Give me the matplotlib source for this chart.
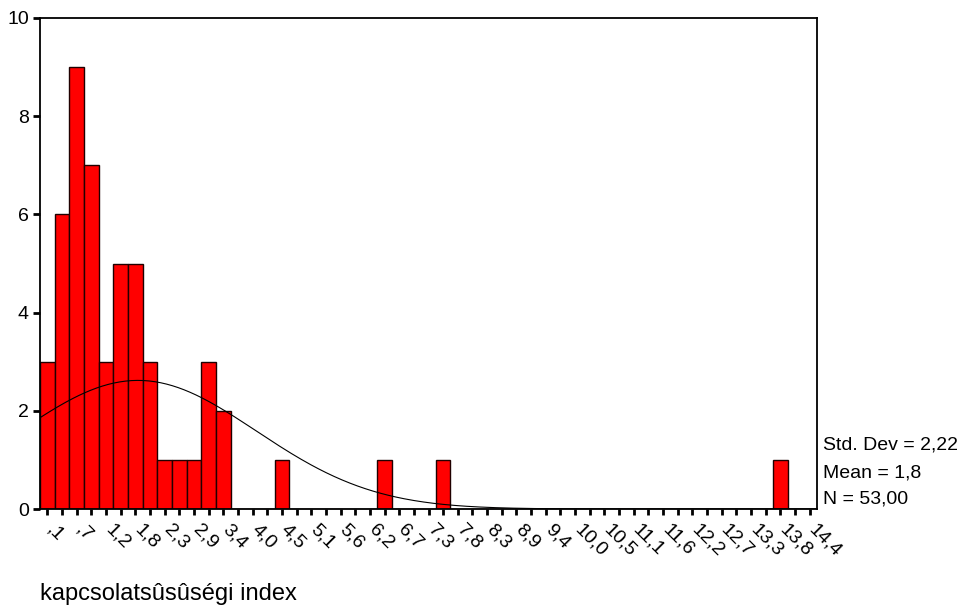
import numpy as np
import matplotlib.pyplot as plt
from matplotlib.transforms import ScaledTranslation

plt.rcParams['font.family'] = ['Liberation Sans', 'DejaVu Sans']

# histogram bins (SPSS style): first centre and width
first_center = 0.1
bin_width = 0.275
counts = [3, 6, 9, 7, 3, 5, 5, 3, 1, 1, 1, 3, 2, 0, 0, 0, 1, 0,
          0, 0, 0, 0, 0, 1, 0, 0, 0, 1, 0, 0, 0, 0, 0, 0, 0, 0,
          0, 0, 0, 0, 0, 0, 0, 0, 0, 0, 0, 0, 0, 0, 1, 0, 0]
tick_labels = [',1', ',7', '1,2', '1,8', '2,3', '2,9', '3,4', '4,0', '4,5',
               '5,1', '5,6', '6,2', '6,7', '7,3', '7,8', '8,3', '8,9', '9,4',
               '10,0', '10,5', '11,1', '11,6', '12,2', '12,7', '13,3', '13,8',
               '14,4']
std_dev = 2.22
mean = 1.8
n_obs = 53

centers = first_center + bin_width * np.arange(len(counts))
xmin = centers[0] - bin_width / 2
xmax = centers[-1] + bin_width / 2

W, H = 958, 605
fig = plt.figure(figsize=(W / 100, H / 100), dpi=100)
ax = fig.add_axes([40 / W, 1 - 509 / H, 777 / W, 491 / H])

ax.bar(centers, counts, width=bin_width, color='#ff0000',
       edgecolor='#200000', linewidth=1.0, zorder=2)

# normal curve with the sample mean / sd, scaled to counts
xs = np.linspace(xmin, xmax, 400)
ys = n_obs * bin_width / (std_dev * np.sqrt(2 * np.pi)) * \
    np.exp(-0.5 * ((xs - mean) / std_dev) ** 2)
ax.plot(xs, ys, color='black', linewidth=0.8, zorder=3)

ax.set_xlim(xmin, xmax)
ax.set_ylim(0, 10)
ax.set_yticks([0, 2, 4, 6, 8, 10])
ax.set_xticks(centers)
labels = [''] * len(centers)
labels[::2] = tick_labels
ax.set_xticklabels(labels, rotation=-45, ha='left', va='top',
                   rotation_mode='anchor')
ax.tick_params(axis='x', length=4, width=2, pad=5, labelsize=14)
ax.tick_params(axis='y', length=5, width=2, pad=3, labelsize=14)
# nudge the slanted labels a little to the right of their ticks
shift = ScaledTranslation(8 / 100, 0, fig.dpi_scale_trans)
for lbl in ax.get_xticklabels():
    lbl.set_transform(lbl.get_transform() + shift)
for s in ax.spines.values():
    s.set_linewidth(1.3)

# summary statistics beside the plot, decimal comma
stat_lines = [f'Std. Dev = {std_dev:.2f}'.replace('2.', '2,'),
              f'Mean = {mean:.1f}'.replace('.', ','),
              f'N = {n_obs:.2f}'.replace('.', ',')]
for line, y in zip(stat_lines, [450, 478, 504]):
    fig.text(823 / W, 1 - y / H, line, ha='left', va='baseline',
             fontsize=14)

fig.text(40 / W, 1 - 600 / H, 'kapcsolatsûsûségi index',
         ha='left', va='baseline', fontsize=17)

fig.savefig('out.png', dpi=100)
